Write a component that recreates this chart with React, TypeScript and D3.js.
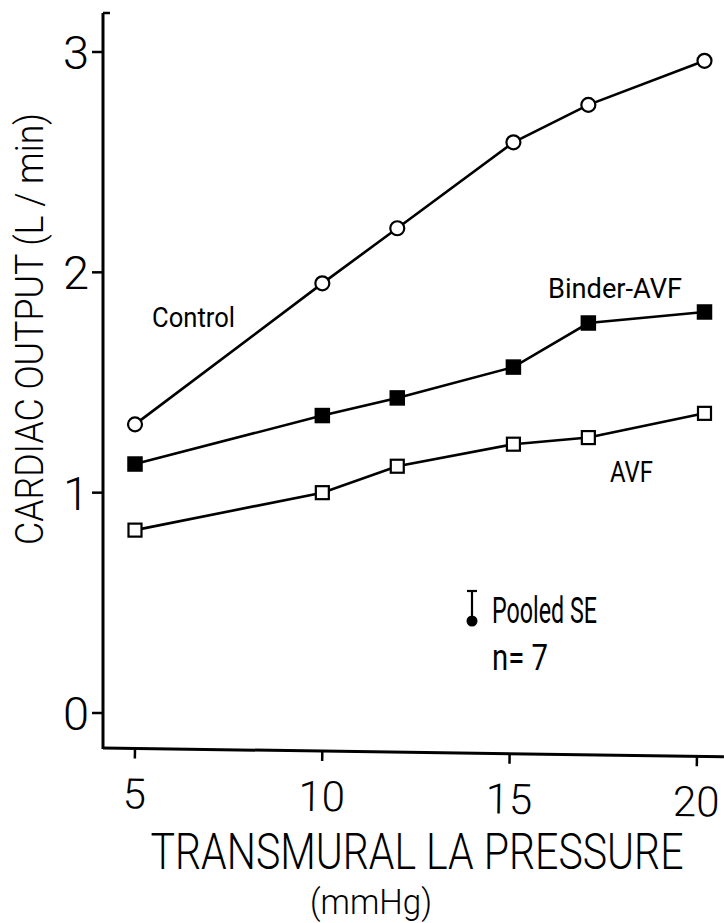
import React from "react";
import * as d3 from "d3";

// Left-atrial transmural pressure (mmHg) at which cardiac output was measured
const pressures = [5, 10, 12, 15.1, 17.1, 20.2];

// Cardiac output (L/min) for each group
const controlValues = [1.31, 1.95, 2.2, 2.59, 2.76, 2.96];
const binderAvfValues = [1.13, 1.35, 1.43, 1.57, 1.77, 1.82];
const avfValues = [0.83, 1.0, 1.12, 1.22, 1.25, 1.36];

const xTicks = [5, 10, 15, 20];
const yTicks = [0, 1, 2, 3];

const FONT = "Roboto, 'Liberation Sans', Arial, sans-serif";

export default function App() {
  const width = 724;
  const height = 923;

  const x = d3.scaleLinear().domain([5, 20]).range([135, 697]);
  const y = d3.scaleLinear().domain([0, 3]).range([713, 52]);

  const axisX = 103;
  const axisY = 748;
  const yTop = 13;

  const line = d3
    .line<[number, number]>()
    .x((d) => x(d[0]))
    .y((d) => y(d[1]));

  const zip = (vals: number[]) =>
    pressures.map((p, i) => [p, vals[i]] as [number, number]);

  const control = zip(controlValues);
  const binder = zip(binderAvfValues);
  const avf = zip(avfValues);

  const sq = 14;

  return (
    <svg
      width={width}
      height={height}
      viewBox={`0 0 ${width} ${height}`}
      style={{ position: "absolute", left: 0, top: 0, background: "#fff" }}
    >
      <rect width={width} height={height} fill="#fff" />

      {/* Y axis */}
      <g stroke="#000" strokeWidth={3} fill="none">
        <line x1={axisX} y1={yTop} x2={axisX} y2={axisY + 1} />
        <line x1={axisX} y1={yTop} x2={axisX + 7} y2={yTop} strokeWidth={2.5} />
        {yTicks.map((t) => (
          <line key={t} x1={axisX - 11} y1={y(t)} x2={axisX} y2={y(t)} strokeWidth={2.5} />
        ))}
      </g>
      {yTicks.map((t) => (
        <text
          key={`yl${t}`}
          x={89}
          y={y(t) + 17}
          fontFamily={FONT}
          fontWeight={300}
          fontSize={47}
          textAnchor="end"
          fill="#000"
        >
          {t}
        </text>
      ))}

      {/* X axis, drawn with the slight tilt of the original frame */}
      <g transform={`rotate(0.8, ${axisX}, ${axisY})`}>
        <line x1={axisX} y1={axisY} x2={width} y2={axisY} stroke="#000" strokeWidth={3} />
        {xTicks.map((t) => (
          <line
            key={t}
            x1={x(t)}
            y1={axisY}
            x2={x(t)}
            y2={axisY + 10}
            stroke="#000"
            strokeWidth={2.5}
          />
        ))}
        {xTicks.map((t) => (
          <text
            key={`xl${t}`}
            x={x(t)}
            y={axisY + 60}
            fontFamily={FONT}
            fontWeight={300}
            fontSize={42}
            textAnchor="middle"
            fill="#000"
          >
            {t}
          </text>
        ))}
      </g>

      {/* Axis titles */}
      <text
        transform="translate(417, 869) scale(1, 1.2)"
        fontFamily={FONT}
        fontWeight={300}
        fontSize={42}
        textAnchor="middle"
        textLength={533}
        lengthAdjust="spacingAndGlyphs"
        fill="#000"
      >
        TRANSMURAL LA PRESSURE
      </text>
      <text
        x={371}
        y={914}
        fontFamily={FONT}
        fontWeight={300}
        fontSize={35}
        textAnchor="middle"
        textLength={122}
        lengthAdjust="spacingAndGlyphs"
        fill="#000"
      >
        (mmHg)
      </text>
      <text
        transform="translate(43, 329) rotate(-90)"
        fontFamily={FONT}
        fontWeight={300}
        fontSize={38}
        textAnchor="middle"
        textLength={432}
        lengthAdjust="spacingAndGlyphs"
        fill="#000"
      >
        CARDIAC OUTPUT (L / min)
      </text>

      {/* Series lines */}
      <g fill="none" stroke="#000" strokeWidth={2.6}>
        <path d={line(control) || ""} />
        <path d={line(binder) || ""} />
        <path d={line(avf) || ""} />
      </g>

      {/* Control: open circles */}
      {control.map((d, i) => (
        <circle
          key={`c${i}`}
          cx={x(d[0])}
          cy={y(d[1])}
          r={7}
          fill="#fff"
          stroke="#000"
          strokeWidth={2.2}
        />
      ))}
      {/* Binder-AVF: filled squares */}
      {binder.map((d, i) => (
        <rect
          key={`b${i}`}
          x={x(d[0]) - sq / 2}
          y={y(d[1]) - sq / 2}
          width={sq}
          height={sq}
          fill="#000"
          stroke="#000"
          strokeWidth={1.5}
        />
      ))}
      {/* AVF: open squares */}
      {avf.map((d, i) => (
        <rect
          key={`a${i}`}
          x={x(d[0]) - sq / 2 + 0.5}
          y={y(d[1]) - sq / 2 + 0.5}
          width={sq - 1}
          height={sq - 1}
          fill="#fff"
          stroke="#000"
          strokeWidth={2.2}
        />
      ))}

      {/* Series labels */}
      <text x={152} y={327} fontFamily={FONT} fontSize={27} textLength={83} lengthAdjust="spacingAndGlyphs" fill="#000">
        Control
      </text>
      <text x={548} y={298} fontFamily={FONT} fontSize={28} textLength={134} lengthAdjust="spacingAndGlyphs" fill="#000">
        Binder-AVF
      </text>
      <text x={610} y={482} fontFamily={FONT} fontSize={29} textLength={43} lengthAdjust="spacingAndGlyphs" fill="#000">
        AVF
      </text>

      {/* Pooled standard error marker */}
      <g stroke="#000" strokeWidth={2.2}>
        <line x1={472} y1={591} x2={472} y2={618} />
        <line x1={467} y1={591} x2={477} y2={591} />
      </g>
      <circle cx={472} cy={621} r={5.5} fill="#000" />
      <text x={492} y={623} fontFamily={FONT} fontSize={37} textLength={105} lengthAdjust="spacingAndGlyphs" fill="#000">
        Pooled SE
      </text>
      <text x={492} y={670} fontFamily={FONT} fontSize={36} textLength={56} lengthAdjust="spacingAndGlyphs" fill="#000">
        n= 7
      </text>
    </svg>
  );
}
